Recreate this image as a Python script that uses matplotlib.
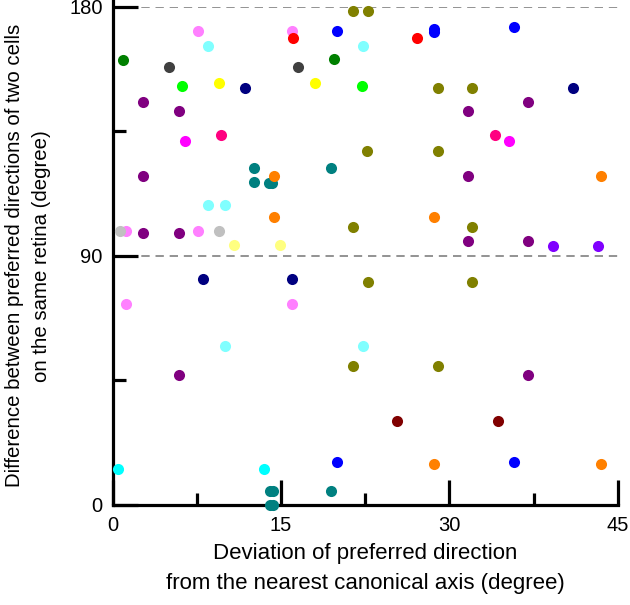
import matplotlib
matplotlib.use("Agg")
import matplotlib.pyplot as plt

plt.rcParams['font.family'] = ['Liberation Sans', 'DejaVu Sans']

# each group: colour, x values (deviation), y values (difference)
colors = ['#808000', '#ff80ff', '#ff0000', '#0000ff', '#80ffff', '#008000',
          '#404040', '#00ff00', '#ffff00', '#000080', '#800080', '#ff00ff',
          '#ff0080', '#008080', '#ff8000', '#c0c0c0', '#ffff80', '#00ffff',
          '#800000', '#8000ff']

dev = [
    [21.4, 22.8, 22.7, 29.0, 21.4, 32.0, 22.8, 32.0, 21.4, 29.0, 29.0, 32.0],
    [7.6, 16.0, 1.2, 7.6, 1.2, 16.0],
    [16.1, 27.1],
    [20.0, 28.6, 28.6, 35.8, 20.0, 35.8],
    [8.5, 22.3, 8.5, 10.0, 10.0, 22.3],
    [0.9, 19.7],
    [5.06, 16.5],
    [6.2, 22.2],
    [9.46, 18.0],
    [11.8, 41.0, 8.1, 16.0],
    [2.7, 5.9, 37.0, 31.7, 2.7, 31.7, 2.7, 5.9, 31.7, 37.0, 5.9, 37.0],
    [6.5, 35.3],
    [9.7, 34.1],
    [12.6, 12.6, 13.9, 14.2, 19.5, 14.0, 14.3, 14.0, 14.3, 19.5],
    [14.4, 14.4, 43.5, 28.6, 28.6, 43.5],
    [0.67, 9.5],
    [10.85, 14.9],
    [0.46, 13.5],
    [25.3, 34.3],
    [39.25, 43.2],
]
diff = [
    [178.3, 178.3, 127.9, 127.9, 100.4, 100.4, 80.6, 80.6, 50.3, 50.3, 150.7, 150.7],
    [171.2, 171.2, 98.8, 98.8, 72.6, 72.6],
    [168.7, 168.7],
    [171.1, 172.1, 170.9, 172.6, 15.6, 15.6],
    [165.9, 165.9, 108.3, 108.3, 57.4, 57.4],
    [160.9, 161.0],
    [158.1, 158.1],
    [151.3, 151.3],
    [152.3, 152.3],
    [150.5, 150.5, 81.6, 81.6],
    [145.5, 142.2, 145.5, 142.2, 118.9, 118.9, 98.4, 98.4, 95.2, 95.2, 46.8, 46.8],
    [131.5, 131.5],
    [133.6, 133.6],
    [121.8, 116.6, 116.4, 116.4, 121.8, 5.2, 5.2, 0.0, 0.0, 5.2],
    [119.0, 104.1, 118.9, 104.1, 14.8, 14.8],
    [98.8, 98.8],
    [93.9, 93.9],
    [12.9, 12.9],
    [30.2, 30.2],
    [93.7, 93.7],
]

fig = plt.figure(figsize=(6.3, 6.05), dpi=100)
ax = fig.add_axes([0.1786, 0.1653, 0.8019, 0.8237])

ax.axhline(90, color='#808080', lw=1.2, ls=(0, (5, 3.5)), zorder=1)
ax.axhline(180, color='#808080', lw=1.2, ls=(0, (5, 3.5)), zorder=1)

for c, xs, ys in zip(colors, dev, diff):
    ax.plot(xs, ys, 'o', color=c, ms=8, mec='none', clip_on=False, zorder=3)

ax.set_xlim(0, 45)
ax.set_ylim(0, 180)
for side in ['top', 'right']:
    ax.spines[side].set_visible(False)
for side in ['left', 'bottom']:
    ax.spines[side].set_linewidth(2.3)
ax.spines['left'].set_bounds(0, 182)

ax.set_xticks([0, 15, 30, 45])
ax.set_xticks([7.5, 22.5, 37.5], minor=True)
ax.set_yticks([0, 90, 180])
ax.set_yticks([45, 135], minor=True)
ax.tick_params(which='major', direction='in', length=18, width=2.3, labelsize=14.5, pad=8)
ax.tick_params(which='minor', direction='in', length=9, width=2.3)
ax.tick_params(axis='y', which='major', pad=7)

ax.set_xlabel('Deviation of preferred direction\nfrom the nearest canonical axis (degree)',
              fontsize=16, labelpad=6, linespacing=1.55)
ax.set_ylabel('Difference between preferred directions of two cells\non the same retina (degree)',
              fontsize=14.7, linespacing=1.5)
ax.yaxis.set_label_coords(-0.122, 0.5)

fig.savefig('out.png', dpi=100)
